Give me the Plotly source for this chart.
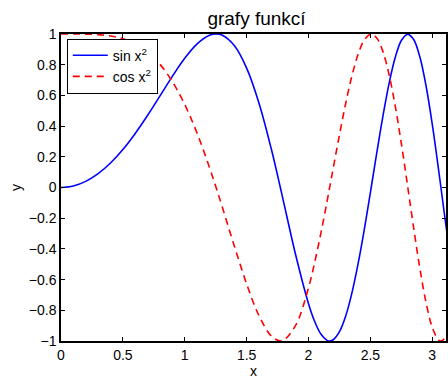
import plotly.graph_objects as go

# values (sin x^2 and cos x^2 curves)
x_vals = [0.0, 0.1, 0.2, 0.3, 0.4, 0.5, 0.6, 0.7, 0.8, 0.9, 1.0, 1.1, 1.2, 1.2533, 1.3,
          1.4, 1.5, 1.6, 1.7, 1.7725, 1.8, 1.9, 2.0, 2.05, 2.1, 2.15, 2.1708, 2.2, 2.25,
          2.3, 2.35, 2.4, 2.45, 2.5, 2.5066, 2.55, 2.6, 2.65, 2.7, 2.75, 2.8, 2.8025,
          2.85, 2.9, 2.95, 3.0, 3.05, 3.07, 3.1, 3.1416]
sin_vals = [0.0, 0.0100, 0.0400, 0.0899, 0.1593, 0.2474, 0.3523, 0.4706, 0.5972, 0.7243,
            0.8415, 0.9356, 0.9915, 1.0, 0.9929, 0.9249, 0.7781, 0.5494, 0.2490, 0.0,
            -0.0982, -0.4515, -0.7568, -0.8731, -0.9548, -0.9960, -1.0, -0.9919, -0.9394,
            -0.8382, -0.6894, -0.4996, -0.2770, -0.0332, 0.0, 0.2175, 0.4590, 0.6738,
            0.8453, 0.9578, 0.9999, 1.0, 0.9642, 0.8496, 0.6612, 0.4121, 0.1220, 0.0,
            -0.1841, -0.4303]
cos_vals = [1.0, 0.99995, 0.9992, 0.9960, 0.9872, 0.9689, 0.9359, 0.8823, 0.8021, 0.6895,
            0.5403, 0.3530, 0.1296, 0.0, -0.1188, -0.3802, -0.6282, -0.8356, -0.9685, -1.0,
            -0.9952, -0.8923, -0.6536, -0.4876, -0.2978, -0.0898, 0.0, 0.1273, 0.3428,
            0.5454, 0.7244, 0.8662, 0.9609, 0.9994, 1.0, 0.9760, 0.8885, 0.7389, 0.5343,
            0.2875, 0.0140, 0.0, -0.2653, -0.5275, -0.7503, -0.9111, -0.9925, -1.0,
            -0.9829, -0.9027]

x_ticks = [0, 0.5, 1, 1.5, 2, 2.5, 3]
x_tick_text = ["0", "0.5", "1", "1.5", "2", "2.5", "3"]
y_ticks = [-1, -0.8, -0.6, -0.4, -0.2, 0, 0.2, 0.4, 0.6, 0.8, 1]
y_tick_text = ["\u22121", "\u22120.8", "\u22120.6", "\u22120.4", "\u22120.2", "0",
               "0.2", "0.4", "0.6", "0.8", "1"]

fig = go.Figure()
fig.add_trace(go.Scatter(x=x_vals, y=sin_vals, mode="lines", name="sin x<sup>2</sup>",
                         line=dict(color="#0000ff", width=1.6, shape="spline")))
fig.add_trace(go.Scatter(x=x_vals, y=cos_vals, mode="lines", name="cos x<sup>2</sup>",
                         line=dict(color="#ff0000", width=1.6, dash="7px,5px", shape="spline")))

font = "Liberation Sans, Arial, Helvetica, sans-serif"
fig.update_layout(
    width=448, height=379,
    margin=dict(l=61, r=0, t=34, b=38),
    paper_bgcolor="white", plot_bgcolor="white",
    font=dict(family=font, size=14, color="black"),
    title=dict(text="grafy funkcí", x=256.5 / 448, xanchor="center", xref="container",
               y=1 - 18 / 379, yanchor="middle", font=dict(size=19)),
    showlegend=True,
    legend=dict(x=0.015, y=0.985, xanchor="left", yanchor="top",
                bgcolor="white", bordercolor="black", borderwidth=1,
                font=dict(size=14), itemwidth=35, tracegroupgap=0),
    xaxis=dict(range=[0, 3.111], tickvals=x_ticks, ticktext=x_tick_text,
               showgrid=False, zeroline=False, showline=True, linecolor="black",
               linewidth=1.5, mirror="ticks", ticks="inside", ticklen=4,
               tickcolor="black", tickfont=dict(size=14),
               title=dict(text="x", font=dict(size=14), standoff=2)),
    yaxis=dict(range=[-1, 1], tickvals=y_ticks, ticktext=y_tick_text,
               showgrid=False, zeroline=False, showline=True, linecolor="black",
               linewidth=1.5, mirror="ticks", ticks="inside", ticklen=4,
               tickcolor="black", tickfont=dict(size=14),
               title=dict(text="y", font=dict(size=14), standoff=4)),
)

fig.write_html("out.html", config={"displayModeBar": False},
               post_script="document.body.style.margin='0';")
